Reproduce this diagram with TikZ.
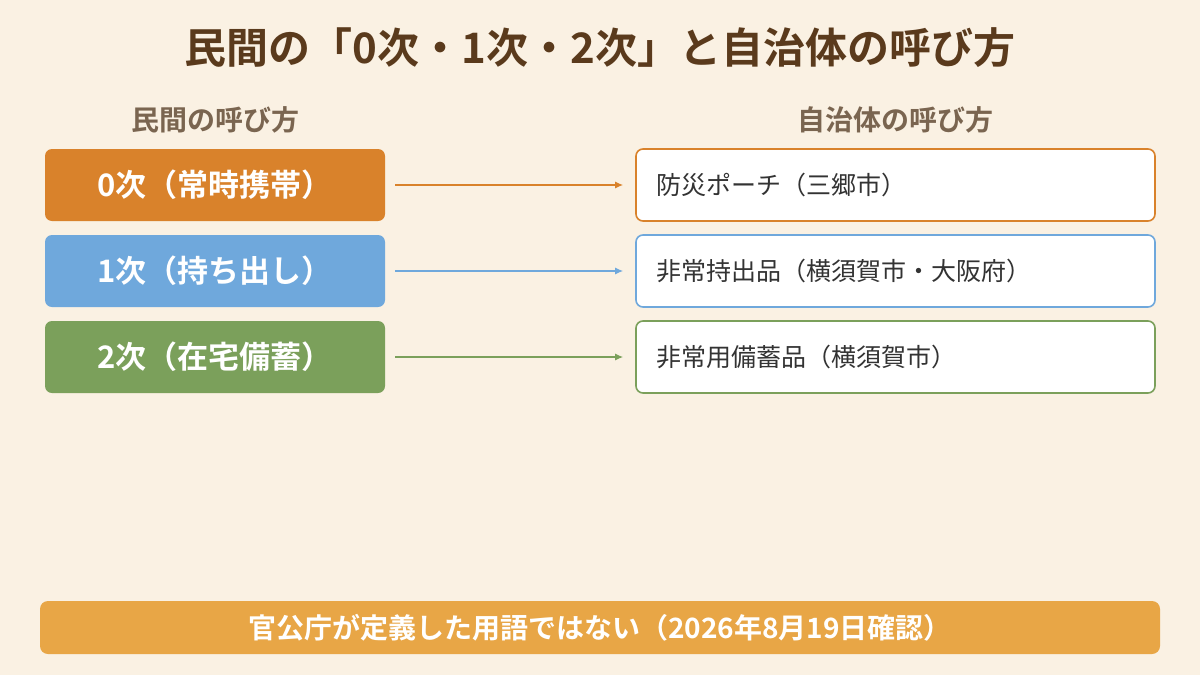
\documentclass[tikz,border=0pt]{standalone}
\usepackage{fontspec}
\newfontfamily\cjk{Noto Sans CJK JP}
\newfontfamily\cjkb{Noto Sans CJK JP Bold}
\usetikzlibrary{arrows.meta}
\definecolor{bg}{HTML}{FAF1E3}
\definecolor{ttl}{HTML}{5A3A1C}
\definecolor{hdr}{HTML}{7A6550}
\definecolor{c0}{HTML}{D9822B}
\definecolor{c1}{HTML}{6FA8DC}
\definecolor{c2}{HTML}{7BA05B}
\definecolor{cb}{HTML}{E8A646}
\definecolor{tx}{HTML}{333333}
\begin{document}
\begin{tikzpicture}[x=1pt,y=-1pt,
 lbox/.style={rounded corners=7pt,minimum width=340pt,minimum height=72pt,text=white,font=\cjkb\fontsize{31}{34}\selectfont,inner sep=0pt},
 rbox/.style={rounded corners=7pt,minimum width=519pt,minimum height=72pt,fill=white,line width=1.6pt,inner sep=0pt},
 rtext/.style={anchor=west,text=tx,font=\cjk\fontsize{25}{28}\selectfont},
 arr/.style={line width=1.3pt,-{Latex[length=8pt,width=7pt]}},
 hd/.style={text=hdr,font=\cjkb\fontsize{28}{30}\selectfont}]
\fill[bg] (0,0) rectangle (1200,675);
\useasboundingbox (0,0) rectangle (1200,675);
\node[text=ttl,font=\cjkb\fontsize{42}{46}\selectfont] (title) at (600,48) {民間の「0次・1次・2次」と自治体の呼び方};
\node[hd] (hl) at (215,120) {民間の呼び方};
\node[hd] (hr) at (895,120) {自治体の呼び方};
\node[lbox,fill=c0] (l0) at (215,185) {0次（常時携帯）};
\node[lbox,fill=c1] (l1) at (215,271) {1次（持ち出し）};
\node[lbox,fill=c2] (l2) at (215,357) {2次（在宅備蓄）};
\node[rbox,draw=c0] (r0) at (895.5,185) {};
\node[rbox,draw=c1] (r1) at (895.5,271) {};
\node[rbox,draw=c2] (r2) at (895.5,357) {};
\node[rtext] (t0) at (653,185) {防災ポーチ（三郷市）};
\node[rtext] (t1) at (653,271) {非常持出品（横須賀市・大阪府）};
\node[rtext] (t2) at (653,357) {非常用備蓄品（横須賀市）};
\draw[arr,c0] ([xshift=10pt]l0.east) -- ([xshift=-12pt]r0.west);
\draw[arr,c1] ([xshift=10pt]l1.east) -- ([xshift=-12pt]r1.west);
\draw[arr,c2] ([xshift=10pt]l2.east) -- ([xshift=-12pt]r2.west);
\node[rounded corners=8pt,fill=cb,minimum width=1120pt,minimum height=53pt,text=white,font=\cjkb\fontsize{28}{30}\selectfont] (note) at (600,627.5) {官公庁が定義した用語ではない（2026年8月19日確認）};
\end{tikzpicture}
\end{document}
